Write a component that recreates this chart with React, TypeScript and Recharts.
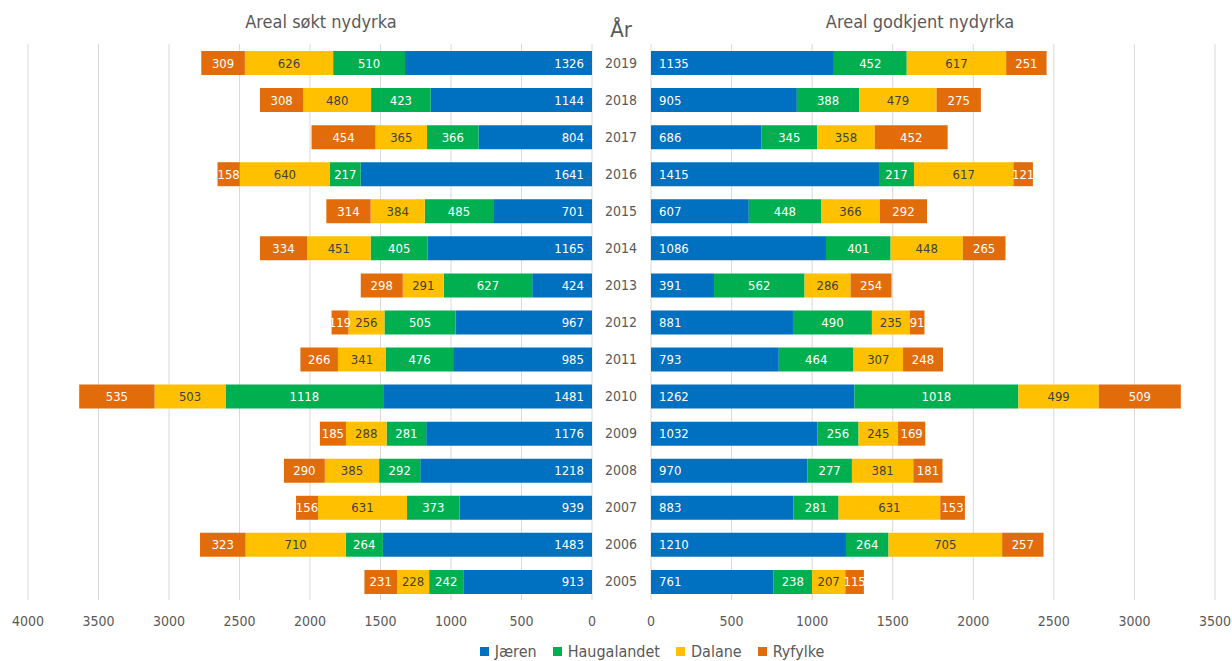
import React from 'react';
import { BarChart, Bar, XAxis, YAxis, CartesianGrid, LabelList } from 'recharts';

const years = ['2019', '2018', '2017', '2016', '2015', '2014', '2013', '2012', '2011', '2010', '2009', '2008', '2007', '2006', '2005'];

// Areal søkt nydyrka
const soktJaeren = [1326, 1144, 804, 1641, 701, 1165, 424, 967, 985, 1481, 1176, 1218, 939, 1483, 913];
const soktHaugalandet = [510, 423, 366, 217, 485, 405, 627, 505, 476, 1118, 281, 292, 373, 264, 242];
const soktDalane = [626, 480, 365, 640, 384, 451, 291, 256, 341, 503, 288, 385, 631, 710, 228];
const soktRyfylke = [309, 308, 454, 158, 314, 334, 298, 119, 266, 535, 185, 290, 156, 323, 231];

// Areal godkjent nydyrka
const godkjentJaeren = [1135, 905, 686, 1415, 607, 1086, 391, 881, 793, 1262, 1032, 970, 883, 1210, 761];
const godkjentHaugalandet = [452, 388, 345, 217, 448, 401, 562, 490, 464, 1018, 256, 277, 281, 264, 238];
const godkjentDalane = [617, 479, 358, 617, 366, 448, 286, 235, 307, 499, 245, 381, 631, 705, 207];
const godkjentRyfylke = [251, 275, 452, 121, 292, 265, 254, 91, 248, 509, 169, 181, 153, 257, 115];

const leftTicks = [0, 500, 1000, 1500, 2000, 2500, 3000, 3500, 4000];
const rightTicks = [0, 500, 1000, 1500, 2000, 2500, 3000, 3500];

const regions = ['Jæren', 'Haugalandet', 'Dalane', 'Ryfylke'];
const colors = ['#0070C0', '#00B050', '#FFC000', '#E36C0A'];
const labelColors = ['#ffffff', '#ffffff', '#404040', '#ffffff'];
const keys = ['jaeren', 'haugalandet', 'dalane', 'ryfylke'];

const FONT = '"Liberation Sans Narrow", "DejaVu Sans Condensed", "Liberation Sans", sans-serif';
const GREY = '#595959';

const soktRows = years.map((year, i) => ({
  year,
  jaeren: soktJaeren[i],
  haugalandet: soktHaugalandet[i],
  dalane: soktDalane[i],
  ryfylke: soktRyfylke[i],
}));

const godkjentRows = years.map((year, i) => ({
  year,
  jaeren: godkjentJaeren[i],
  haugalandet: godkjentHaugalandet[i],
  dalane: godkjentDalane[i],
  ryfylke: godkjentRyfylke[i],
}));

// blue labels sit at the inner end of the bar, the rest in the middle
const makeLabel = (mode: 'start' | 'end' | 'middle', color: string) => (props: any) => {
  const { x, y, width, height, value } = props;
  const left = Math.min(x, x + width);
  const right = Math.max(x, x + width);
  let tx = (left + right) / 2;
  if (mode === 'end') tx = right - 8;
  if (mode === 'start') tx = left + 8;
  return (
    <text
      x={tx}
      y={y + height / 2}
      dy="0.35em"
      textAnchor={mode}
      fill={color}
      fontSize={13}
      fontFamily={FONT}
    >
      {value}
    </text>
  );
};

const App: React.FC = () => {
  return (
    <div style={{ position: 'absolute', left: 0, top: 0, width: 1232, height: 661, background: '#fff', fontFamily: FONT }}>
      <div style={{ position: 'absolute', left: 171, width: 300, top: 11, textAlign: 'center', fontSize: 18, color: GREY }}>
        Areal søkt nydyrka
      </div>
      <div style={{ position: 'absolute', left: 591, width: 60, top: 17, textAlign: 'center', fontSize: 22, color: GREY }}>
        År
      </div>
      <div style={{ position: 'absolute', left: 770, width: 300, top: 11, textAlign: 'center', fontSize: 18, color: GREY }}>
        Areal godkjent nydyrka
      </div>

      <div style={{ position: 'absolute', left: 0, top: 0 }}>
        <BarChart width={600} height={632} layout="vertical" data={soktRows} barSize={24}
          margin={{ top: 44, right: 8, left: 28, bottom: 0 }}>
          <CartesianGrid horizontal={false} stroke="#d9d9d9" />
          <XAxis type="number" domain={[0, 4000]} ticks={leftTicks} interval={0} reversed
            axisLine={false} tickLine={false} height={32} tickMargin={10}
            tick={{ fill: GREY, fontSize: 14, fontFamily: FONT }} />
          <YAxis type="category" dataKey="year" hide />
          {keys.map((k, i) => (
            <Bar key={k} dataKey={k} name={regions[i]} stackId="a" fill={colors[i]} isAnimationActive={false}>
              <LabelList dataKey={k} content={makeLabel(i === 0 ? 'end' : 'middle', labelColors[i])} />
            </Bar>
          ))}
        </BarChart>
      </div>

      <div style={{ position: 'absolute', left: 600, top: 0 }}>
        <BarChart width={632} height={632} layout="vertical" data={godkjentRows} barSize={24}
          margin={{ top: 44, right: 17, left: 0, bottom: 0 }}>
          <CartesianGrid horizontal={false} stroke="#d9d9d9" />
          <XAxis type="number" domain={[0, 3500]} ticks={rightTicks} interval={0}
            axisLine={false} tickLine={false} height={32} tickMargin={10}
            tick={{ fill: GREY, fontSize: 14, fontFamily: FONT }} />
          <YAxis type="category" dataKey="year" width={51} axisLine={false} tickLine={false} tickMargin={8}
            tick={{ fill: GREY, fontSize: 14, fontFamily: FONT }} />
          {keys.map((k, i) => (
            <Bar key={k} dataKey={k} name={regions[i]} stackId="a" fill={colors[i]} isAnimationActive={false}>
              <LabelList dataKey={k} content={makeLabel(i === 0 ? 'start' : 'middle', labelColors[i])} />
            </Bar>
          ))}
        </BarChart>
      </div>

      <div style={{ position: 'absolute', left: 0, width: 1320, top: 642, display: 'flex', justifyContent: 'center', fontSize: 16, color: GREY }}>
        {regions.map((r, i) => (
          <span key={r} style={{ display: 'inline-flex', alignItems: 'center', marginRight: 16 }}>
            <span style={{ width: 9, height: 9, background: colors[i], display: 'inline-block', marginRight: 6 }} />
            {r}
          </span>
        ))}
      </div>
    </div>
  );
};

export default App;
